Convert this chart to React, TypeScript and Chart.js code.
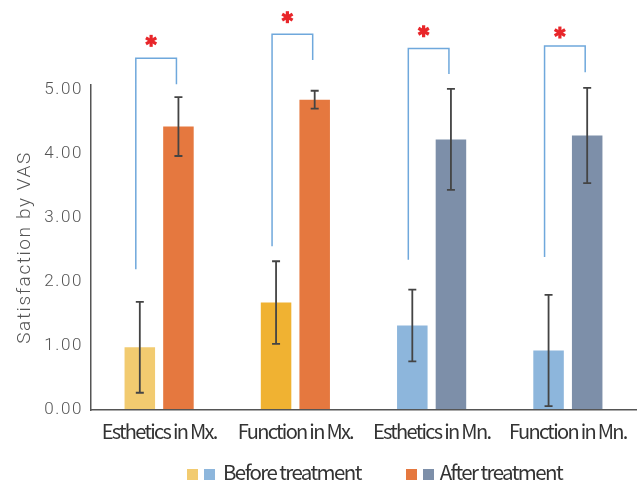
import React, { useEffect, useRef } from "react";
import { Chart, registerables } from "chart.js";

Chart.register(...registerables);

const categories = ["Esthetics in Mx.", "Function in Mx.", "Esthetics in Mn.", "Function in Mn."];
const beforeValues = [0.98, 1.68, 1.32, 0.93];
const afterValues = [4.43, 4.85, 4.23, 4.29];
const beforeErrors = [0.71, 0.645, 0.56, 0.87];
const afterErrors = [0.46, 0.14, 0.79, 0.745];
const yTicks = [0, 1, 2, 3, 4, 5];
// significance brackets (data units)
const bracketTop = [5.5, 5.875, 5.65, 5.69];
const bracketLeftEnd = [2.2, 2.56, 2.35, 2.39];
const bracketRightEnd = [5.09, 5.47, 5.25, 5.28];
const asteriskLevel = [5.77, 6.14, 5.92, 5.9];

const beforeColors = ["#F2CB70", "#F0B232", "#8DB6DC", "#8DB6DC"];
const afterColors = ["#E5783F", "#E5783F", "#7D8FA9", "#7D8FA9"];

function drawAsterisk(ctx: CanvasRenderingContext2D, cx: number, cy: number) {
  const r = 6;
  ctx.save();
  ctx.strokeStyle = "#E8262A";
  ctx.lineWidth = 3.2;
  ctx.lineCap = "butt";
  for (let k = 0; k < 3; k++) {
    const a = Math.PI / 2 + (k * Math.PI) / 3;
    ctx.beginPath();
    ctx.moveTo(cx - r * Math.cos(a), cy - r * Math.sin(a));
    ctx.lineTo(cx + r * Math.cos(a), cy + r * Math.sin(a));
    ctx.stroke();
  }
  ctx.restore();
}

const overlay = {
  id: "overlay",
  beforeDraw(chart: any) {
    chart.ctx.letterSpacing = "1.6px";
  },
  afterDatasetsDraw(chart: any) {
    const ctx = chart.ctx;
    const y = chart.scales.y;
    const errs = [beforeErrors, afterErrors];
    const vals = [beforeValues, afterValues];
    ctx.save();
    ctx.letterSpacing = "0px";
    ctx.strokeStyle = "#444";
    ctx.lineWidth = 1.8;
    for (let d = 0; d < 2; d++) {
      const meta = chart.getDatasetMeta(d);
      meta.data.forEach((bar: any, i: number) => {
        const x = bar.x;
        const yt = y.getPixelForValue(vals[d][i] + errs[d][i]);
        const yb = y.getPixelForValue(vals[d][i] - errs[d][i]);
        ctx.beginPath();
        ctx.moveTo(x, yt);
        ctx.lineTo(x, yb);
        ctx.moveTo(x - 4, yt);
        ctx.lineTo(x + 4, yt);
        ctx.moveTo(x - 4, yb);
        ctx.lineTo(x + 4, yb);
        ctx.stroke();
      });
    }
    const m0 = chart.getDatasetMeta(0);
    const m1 = chart.getDatasetMeta(1);
    ctx.strokeStyle = "#6FA8DC";
    ctx.lineWidth = 1.5;
    for (let i = 0; i < categories.length; i++) {
      const xl = m0.data[i].x - 4;
      const xr = m1.data[i].x - 2;
      ctx.beginPath();
      ctx.moveTo(xl, y.getPixelForValue(bracketLeftEnd[i]));
      ctx.lineTo(xl, y.getPixelForValue(bracketTop[i]));
      ctx.lineTo(xr, y.getPixelForValue(bracketTop[i]));
      ctx.lineTo(xr, y.getPixelForValue(bracketRightEnd[i]));
      ctx.stroke();
      drawAsterisk(ctx, (xl + xr) / 2 - 5, y.getPixelForValue(asteriskLevel[i]));
    }
    ctx.restore();
    ctx.letterSpacing = "-1.7px";
  },
};

export default function App() {
  const ref = useRef<HTMLCanvasElement | null>(null);
  useEffect(() => {
    if (!ref.current) return;
    const chart = new Chart(ref.current, {
      type: "bar",
      data: {
        labels: categories,
        datasets: [
          { label: "Before treatment", data: beforeValues, backgroundColor: beforeColors },
          { label: "After treatment", data: afterValues, backgroundColor: afterColors },
        ],
      },
      options: {
        animation: false,
        responsive: true,
        maintainAspectRatio: false,
        datasets: { bar: { categoryPercentage: 0.567, barPercentage: 0.79 } },
        layout: { padding: { top: 85, right: 2, bottom: 23, left: 0 } },
        plugins: { legend: { display: false }, tooltip: { enabled: false } },
        scales: {
          x: {
            grid: { display: false, drawTicks: false },
            border: { display: true, color: "#555", width: 1.5, z: 1 } as any,
            ticks: {
              z: 1,
              color: "#333",
              padding: 9,
              maxRotation: 0,
              minRotation: 0,
              autoSkip: false,
              font: { family: "'Noto Sans CJK KR'", size: 20 },
            },
            afterFit: (s: any) => {
              s.height = 50;
              s.paddingLeft = 0;
              s.paddingRight = 0;
            },
          },
          y: {
            min: 0,
            max: 5.08,
            grid: { display: false, drawTicks: false },
            border: { display: true, color: "#555", width: 1.5 },
            afterBuildTicks: (s: any) => {
              s.ticks = yTicks.map((v) => ({ value: v }));
            },
            afterFit: (s: any) => {
              s.width = 91;
            },
            ticks: {
              color: "#555",
              padding: 8,
              font: { family: "Roboto", size: 17, weight: 300 as any },
              callback: (v: any) => Number(v).toFixed(2),
            },
            title: {
              display: true,
              text: "Satisfaction by VAS",
              color: "#555",
              padding: { top: 14, bottom: 0 },
              font: { family: "Roboto", size: 19, weight: 300 as any },
            },
          },
        },
      },
      plugins: [overlay],
    });
    return () => chart.destroy();
  }, []);

  const sq = (c: string) => (
    <span
      style={{ display: "inline-block", width: 11, height: 11, background: c, marginRight: 6, position: "relative", top: 3 }}
    />
  );
  return (
    <div style={{ position: "absolute", left: 0, top: 0, width: 638, height: 483 }}>
      <canvas ref={ref} />
      <div
        style={{
          position: "absolute",
          top: 459,
          left: 187,
          display: "flex",
          alignItems: "center",
          fontFamily: "'Noto Sans CJK KR'",
          fontSize: 20.5,
          letterSpacing: -1.6,
          color: "#333",
          whiteSpace: "nowrap",
          lineHeight: "24px",
        }}
      >
        {sq("#F2CB70")}
        {sq("#8DB6DC")}
        <span style={{ marginLeft: 2, marginRight: 45 }}>Before treatment</span>
        {sq("#E5783F")}
        {sq("#7D8FA9")}
        <span>After treatment</span>
      </div>
    </div>
  );
}
